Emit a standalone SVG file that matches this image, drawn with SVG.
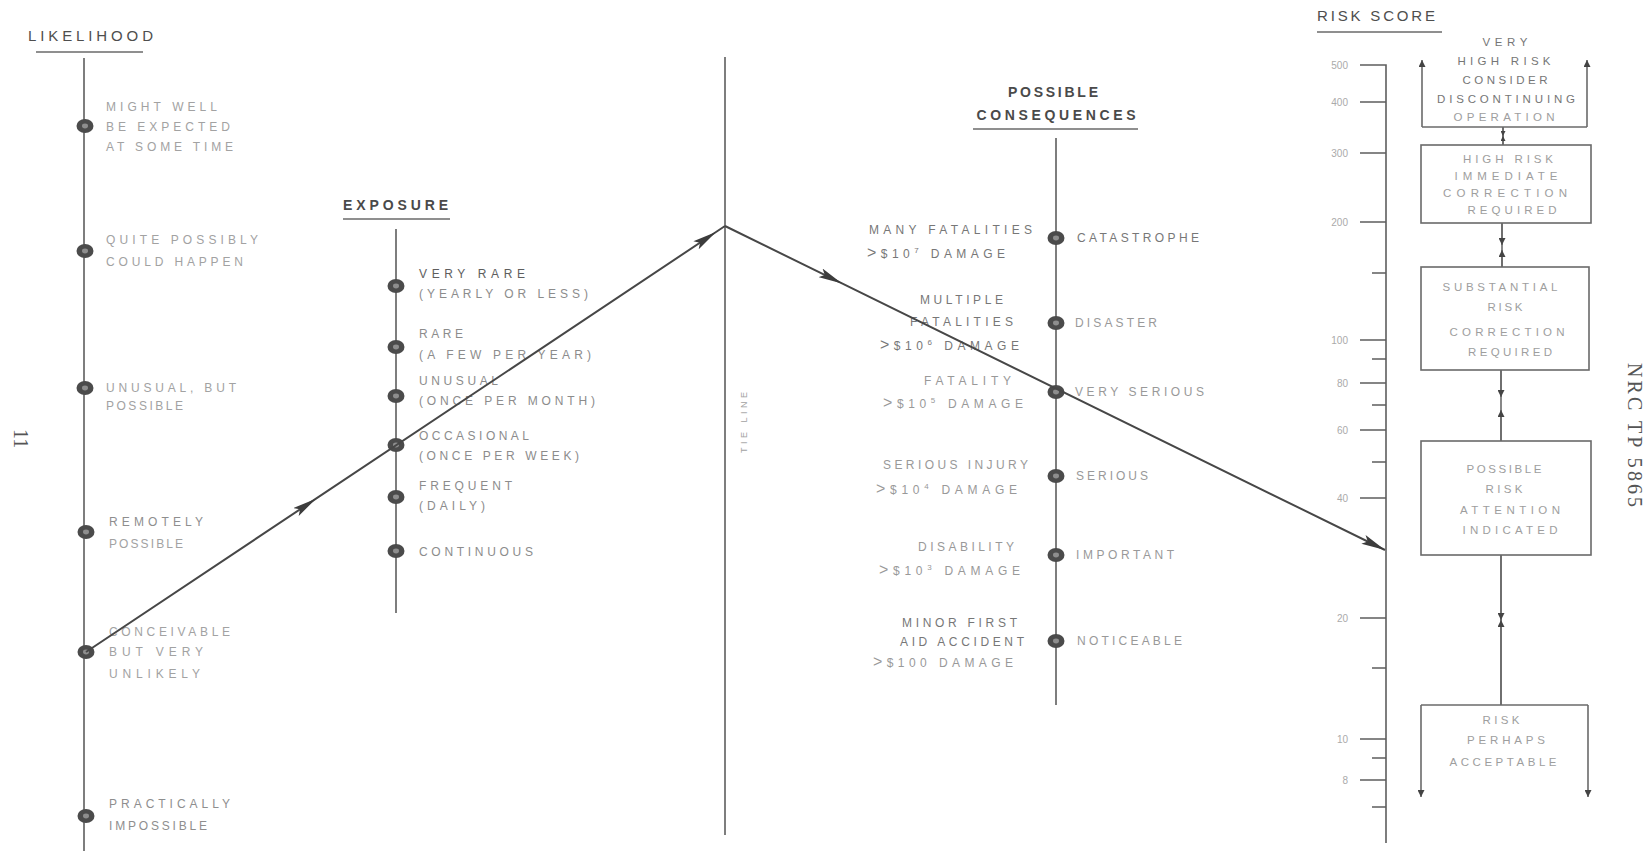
<svg xmlns="http://www.w3.org/2000/svg" width="1650" height="851" viewBox="0 0 1650 851">
<defs>
<style>
.ax{stroke:#5e5e5e;stroke-width:1.6;fill:none}
.ln{stroke:#474747;stroke-width:2;fill:none}
.bx{stroke:#6a6a6a;stroke-width:1.6;fill:none}
.ul{stroke:#6a6a6a;stroke-width:1.4}
text{font-family:"Liberation Sans",Arial,sans-serif}
.hd{font-size:15px;fill:#4e4e4e}
.hb{font-size:14px;fill:#4a4a4a;font-weight:bold}
.lk{font-size:12px;fill:#a2a2a2}
.lk2{font-size:12px;fill:#8e8e8e}
.ex{font-size:12px;fill:#8c8c8c}
.ex1{font-size:12px;fill:#5e5e5e}
.cq{font-size:12px;fill:#999}
.cq1{font-size:12px;fill:#777}
.bt{font-size:11.5px;fill:#9e9e9e;text-anchor:middle}
.bt1{font-size:11.5px;fill:#767676;text-anchor:middle}
.tk{font-size:10px;fill:#aaa;text-anchor:end}
.sup{font-size:8px}
.gt{font-size:16px}
.pg{font-family:"Liberation Serif","Times New Roman",serif;font-size:20px;fill:#555}
</style>
<g id="dot"><ellipse rx="8.5" ry="7" fill="#4b4b4b"/><ellipse rx="3" ry="2.4" fill="#8e8e8e"/></g>
<marker id="ah" viewBox="0 0 20 8" refX="20" refY="4" markerWidth="24" markerHeight="10" markerUnits="userSpaceOnUse" orient="auto"><path d="M0,0 L20,4 L0,8 L4,4 z" fill="#3c3c3c"/></marker>
<marker id="sh" viewBox="0 0 10 10" refX="10" refY="5" markerWidth="16" markerHeight="7" markerUnits="userSpaceOnUse" orient="auto"><path d="M0,0 L10,5 L0,10 z" fill="#444"/></marker>
<marker id="tn" viewBox="0 0 10 10" refX="10" refY="5" markerWidth="8" markerHeight="5" markerUnits="userSpaceOnUse" orient="auto"><path d="M0,0 L10,5 L0,10 z" fill="#444"/></marker>
</defs>
<rect width="1650" height="851" fill="#fff"/>

<g id="page-number">
<text class="pg" transform="translate(14,429) rotate(90)">11</text>
</g>

<g id="likelihood">
<text class="hd" x="28" y="41" textLength="125" lengthAdjust="spacing">LIKELIHOOD</text>
<line class="ul" x1="36" y1="52" x2="143" y2="52"/>
<line class="ax" x1="84" y1="58" x2="84" y2="851"/>
<use href="#dot" x="85" y="126"/>
<use href="#dot" x="85" y="251"/>
<use href="#dot" x="85" y="388"/>
<use href="#dot" x="86" y="532"/>
<use href="#dot" x="86" y="652"/>
<use href="#dot" x="86" y="816"/>
<text class="lk" x="106" y="111" textLength="111" lengthAdjust="spacing">MIGHT WELL</text>
<text class="lk" x="106" y="131" textLength="124" lengthAdjust="spacing">BE EXPECTED</text>
<text class="lk" x="106" y="151" textLength="127" lengthAdjust="spacing">AT SOME TIME</text>
<text class="lk" x="106" y="244" textLength="152" lengthAdjust="spacing">QUITE POSSIBLY</text>
<text class="lk" x="106" y="266" textLength="137" lengthAdjust="spacing">COULD HAPPEN</text>
<text class="lk" x="106" y="392" textLength="130" lengthAdjust="spacing">UNUSUAL, BUT</text>
<text class="lk" x="106" y="410" textLength="77" lengthAdjust="spacing">POSSIBLE</text>
<text class="lk2" x="109" y="526" textLength="94" lengthAdjust="spacing">REMOTELY</text>
<text class="lk" x="109" y="548" textLength="74" lengthAdjust="spacing">POSSIBLE</text>
<text class="lk" x="109" y="636" textLength="121" lengthAdjust="spacing">CONCEIVABLE</text>
<text class="lk" x="109" y="656" textLength="94" lengthAdjust="spacing">BUT VERY</text>
<text class="lk" x="109" y="678" textLength="91" lengthAdjust="spacing">UNLIKELY</text>
<text class="lk2" x="109" y="808" textLength="121" lengthAdjust="spacing">PRACTICALLY</text>
<text class="lk2" x="109" y="830" textLength="98" lengthAdjust="spacing">IMPOSSIBLE</text>
</g>

<g id="exposure">
<text class="hb" x="343" y="210" textLength="105" lengthAdjust="spacing">EXPOSURE</text>
<line class="ul" x1="343" y1="219" x2="450" y2="219"/>
<line class="ax" x1="396" y1="229" x2="396" y2="613"/>
<use href="#dot" x="396" y="286"/>
<use href="#dot" x="396" y="347"/>
<use href="#dot" x="396" y="396"/>
<use href="#dot" x="396" y="445"/>
<use href="#dot" x="396" y="497"/>
<use href="#dot" x="396" y="551"/>
<text class="ex1" x="419" y="278" textLength="106" lengthAdjust="spacing">VERY RARE</text>
<text class="ex" x="419" y="298" textLength="169" lengthAdjust="spacing">(YEARLY OR LESS)</text>
<text class="ex" x="419" y="338" textLength="44" lengthAdjust="spacing">RARE</text>
<text class="ex" x="419" y="359" textLength="172" lengthAdjust="spacing">(A FEW PER YEAR)</text>
<text class="ex" x="419" y="385" textLength="79" lengthAdjust="spacing">UNUSUAL</text>
<text class="ex" x="419" y="405" textLength="176" lengthAdjust="spacing">(ONCE PER MONTH)</text>
<text class="ex" x="419" y="440" textLength="110" lengthAdjust="spacing">OCCASIONAL</text>
<text class="ex" x="419" y="460" textLength="160" lengthAdjust="spacing">(ONCE PER WEEK)</text>
<text class="ex" x="419" y="490" textLength="93" lengthAdjust="spacing">FREQUENT</text>
<text class="ex" x="419" y="510" textLength="66" lengthAdjust="spacing">(DAILY)</text>
<text class="ex" x="419" y="556" textLength="114" lengthAdjust="spacing">CONTINUOUS</text>
</g>

<g id="tie-line">
<line class="ax" x1="725" y1="57" x2="725" y2="835"/>
<text class="lk" style="font-size:9px" transform="translate(747,453) rotate(-90)" textLength="61" lengthAdjust="spacing">TIE LINE</text>
</g>

<g id="consequences">
<text class="hb" x="1053" y="97" text-anchor="middle" textLength="90" lengthAdjust="spacing">POSSIBLE</text>
<text class="hb" x="1056" y="120" text-anchor="middle" textLength="159" lengthAdjust="spacing">CONSEQUENCES</text>
<line class="ul" x1="973" y1="129" x2="1138" y2="129"/>
<line class="ax" x1="1056" y1="138" x2="1056" y2="705"/>
<use href="#dot" x="1056" y="238"/>
<use href="#dot" x="1056" y="323"/>
<use href="#dot" x="1056" y="392"/>
<use href="#dot" x="1056" y="476"/>
<use href="#dot" x="1056" y="555"/>
<use href="#dot" x="1056" y="641"/>
<text class="cq1" x="1077" y="242" textLength="122" lengthAdjust="spacing">CATASTROPHE</text>
<text class="cq" x="1075" y="327" textLength="82" lengthAdjust="spacing">DISASTER</text>
<text class="cq" x="1075" y="396" textLength="129" lengthAdjust="spacing">VERY SERIOUS</text>
<text class="cq" x="1076" y="480" textLength="72" lengthAdjust="spacing">SERIOUS</text>
<text class="cq" x="1076" y="559" textLength="98" lengthAdjust="spacing">IMPORTANT</text>
<text class="cq" x="1077" y="645" textLength="105" lengthAdjust="spacing">NOTICEABLE</text>

<text class="cq1" x="869" y="234" textLength="163" lengthAdjust="spacing">MANY FATALITIES</text>
<text class="cq1" x="867" y="258" textLength="138" lengthAdjust="spacing"><tspan class="gt">&gt;</tspan>$10<tspan class="sup" dy="-5">7</tspan><tspan dy="5"> DAMAGE</tspan></text>
<text class="cq1" x="920" y="304" textLength="83" lengthAdjust="spacing">MULTIPLE</text>
<text class="cq1" x="910" y="326" textLength="103" lengthAdjust="spacing">FATALITIES</text>
<text class="cq1" x="880" y="350" textLength="139" lengthAdjust="spacing"><tspan class="gt">&gt;</tspan>$10<tspan class="sup" dy="-5">6</tspan><tspan dy="5"> DAMAGE</tspan></text>
<text class="cq" x="924" y="385" textLength="87" lengthAdjust="spacing">FATALITY</text>
<text class="cq" x="883" y="408" textLength="140" lengthAdjust="spacing"><tspan class="gt">&gt;</tspan>$10<tspan class="sup" dy="-5">5</tspan><tspan dy="5"> DAMAGE</tspan></text>
<text class="cq" x="883" y="469" textLength="145" lengthAdjust="spacing">SERIOUS INJURY</text>
<text class="cq" x="876" y="494" textLength="141" lengthAdjust="spacing"><tspan class="gt">&gt;</tspan>$10<tspan class="sup" dy="-5">4</tspan><tspan dy="5"> DAMAGE</tspan></text>
<text class="cq" x="918" y="551" textLength="96" lengthAdjust="spacing">DISABILITY</text>
<text class="cq" x="879" y="575" textLength="141" lengthAdjust="spacing"><tspan class="gt">&gt;</tspan>$10<tspan class="sup" dy="-5">3</tspan><tspan dy="5"> DAMAGE</tspan></text>
<text class="cq1" x="902" y="627" textLength="115" lengthAdjust="spacing">MINOR FIRST</text>
<text class="cq1" x="900" y="646" textLength="124" lengthAdjust="spacing">AID ACCIDENT</text>
<text class="cq" x="873" y="667" textLength="140" lengthAdjust="spacing"><tspan class="gt">&gt;</tspan>$100 DAMAGE</text>
</g>

<g id="risk-score">
<text class="hd" x="1317" y="21" textLength="118" lengthAdjust="spacing">RISK SCORE</text>
<line class="ul" x1="1317" y1="32" x2="1442" y2="32"/>
<path class="ax" d="M1360,65 H1386 V843"/>
<path class="ax" d="M1360,102 H1386 M1360,153 H1386 M1360,222 H1386 M1372,273 H1386 M1360,340 H1386 M1372,359 H1386 M1360,383 H1386 M1372,405 H1386 M1360,430 H1386 M1372,462 H1386 M1360,498 H1386 M1360,618 H1386 M1372,668 H1386 M1360,739 H1386 M1372,758 H1386 M1360,780 H1386 M1372,807 H1386"/>
<text class="tk" x="1348" y="69">500</text>
<text class="tk" x="1348" y="106">400</text>
<text class="tk" x="1348" y="157">300</text>
<text class="tk" x="1348" y="226">200</text>
<text class="tk" x="1348" y="344">100</text>
<text class="tk" x="1348" y="387">80</text>
<text class="tk" x="1348" y="434">60</text>
<text class="tk" x="1348" y="502">40</text>
<text class="tk" x="1348" y="622">20</text>
<text class="tk" x="1348" y="743">10</text>
<text class="tk" x="1348" y="784">8</text>
</g>

<g id="box-very-high">
<path class="bx" d="M1422,127 H1587"/>
<path class="bx" d="M1422,127 V60" marker-end="url(#sh)"/>
<path class="bx" d="M1587,127 V60" marker-end="url(#sh)"/>
<text class="bt1" x="1505" y="46" textLength="45" lengthAdjust="spacing">VERY</text>
<text class="bt1" x="1504" y="65" textLength="93" lengthAdjust="spacing">HIGH RISK</text>
<text class="bt1" x="1505" y="84" textLength="85" lengthAdjust="spacing">CONSIDER</text>
<text class="bt1" x="1506" y="103" textLength="138" lengthAdjust="spacing">DISCONTINUING</text>
<text class="bt" x="1504" y="121" textLength="101" lengthAdjust="spacing">OPERATION</text>
</g>

<g id="box-high">
<rect class="bx" x="1421" y="145" width="170" height="78"/>
<text class="bt" x="1508" y="163" textLength="90" lengthAdjust="spacing">HIGH RISK</text>
<text class="bt" x="1506" y="180" textLength="103" lengthAdjust="spacing">IMMEDIATE</text>
<text class="bt" x="1505" y="197" textLength="124" lengthAdjust="spacing">CORRECTION</text>
<text class="bt" x="1512" y="214" textLength="89" lengthAdjust="spacing">REQUIRED</text>
</g>

<g id="box-substantial">
<rect class="bx" x="1421" y="267" width="168" height="103"/>
<text class="bt" x="1500" y="291" textLength="115" lengthAdjust="spacing">SUBSTANTIAL</text>
<text class="bt" x="1505" y="311" textLength="35" lengthAdjust="spacing">RISK</text>
<text class="bt" x="1507" y="336" textLength="115" lengthAdjust="spacing">CORRECTION</text>
<text class="bt" x="1510" y="356" textLength="84" lengthAdjust="spacing">REQUIRED</text>
</g>

<g id="box-possible">
<rect class="bx" x="1421" y="441" width="170" height="114"/>
<text class="bt" x="1504" y="473" textLength="75" lengthAdjust="spacing">POSSIBLE</text>
<text class="bt" x="1504" y="493" textLength="37" lengthAdjust="spacing">RISK</text>
<text class="bt" x="1510" y="514" textLength="100" lengthAdjust="spacing">ATTENTION</text>
<text class="bt" x="1510" y="534" textLength="95" lengthAdjust="spacing">INDICATED</text>
</g>

<g id="box-acceptable">
<path class="bx" d="M1421,705 H1588"/>
<path class="bx" d="M1421,705 V797" marker-end="url(#sh)"/>
<path class="bx" d="M1588,705 V797" marker-end="url(#sh)"/>
<text class="bt" x="1501" y="724" textLength="37" lengthAdjust="spacing">RISK</text>
<text class="bt" x="1506" y="744" textLength="78" lengthAdjust="spacing">PERHAPS</text>
<text class="bt" x="1503" y="766" textLength="107" lengthAdjust="spacing">ACCEPTABLE</text>
</g>

<g id="connectors">
<path class="ln" d="M86,652 L316,498.7 L716,232 L725,226" marker-mid="url(#ah)"/>
<path class="ln" d="M725,226 L842,283.4 L1385,550" marker-mid="url(#ah)" marker-end="url(#ah)"/>
<path class="bx" d="M1503,127 V145"/>
<path class="bx" d="M1503,127 V136" marker-end="url(#tn)"/>
<path class="bx" d="M1503,145 V136" marker-end="url(#tn)"/>
<path class="bx" d="M1502,223 V267"/>
<path class="bx" d="M1502,223 V245" marker-end="url(#sh)"/>
<path class="bx" d="M1502,267 V250" marker-end="url(#sh)"/>
<path class="bx" d="M1501,370 V441"/>
<path class="bx" d="M1501,370 V397" marker-end="url(#sh)"/>
<path class="bx" d="M1501,441 V410" marker-end="url(#sh)"/>
<path class="bx" d="M1501,555 V705"/>
<path class="bx" d="M1501,555 V620" marker-end="url(#sh)"/>
<path class="bx" d="M1501,705 V620" marker-end="url(#sh)"/>
</g>

<g id="report-id">
<text class="pg" transform="translate(1628,363) rotate(90)" textLength="144" lengthAdjust="spacing">NRC TP 5865</text>
</g>
</svg>
